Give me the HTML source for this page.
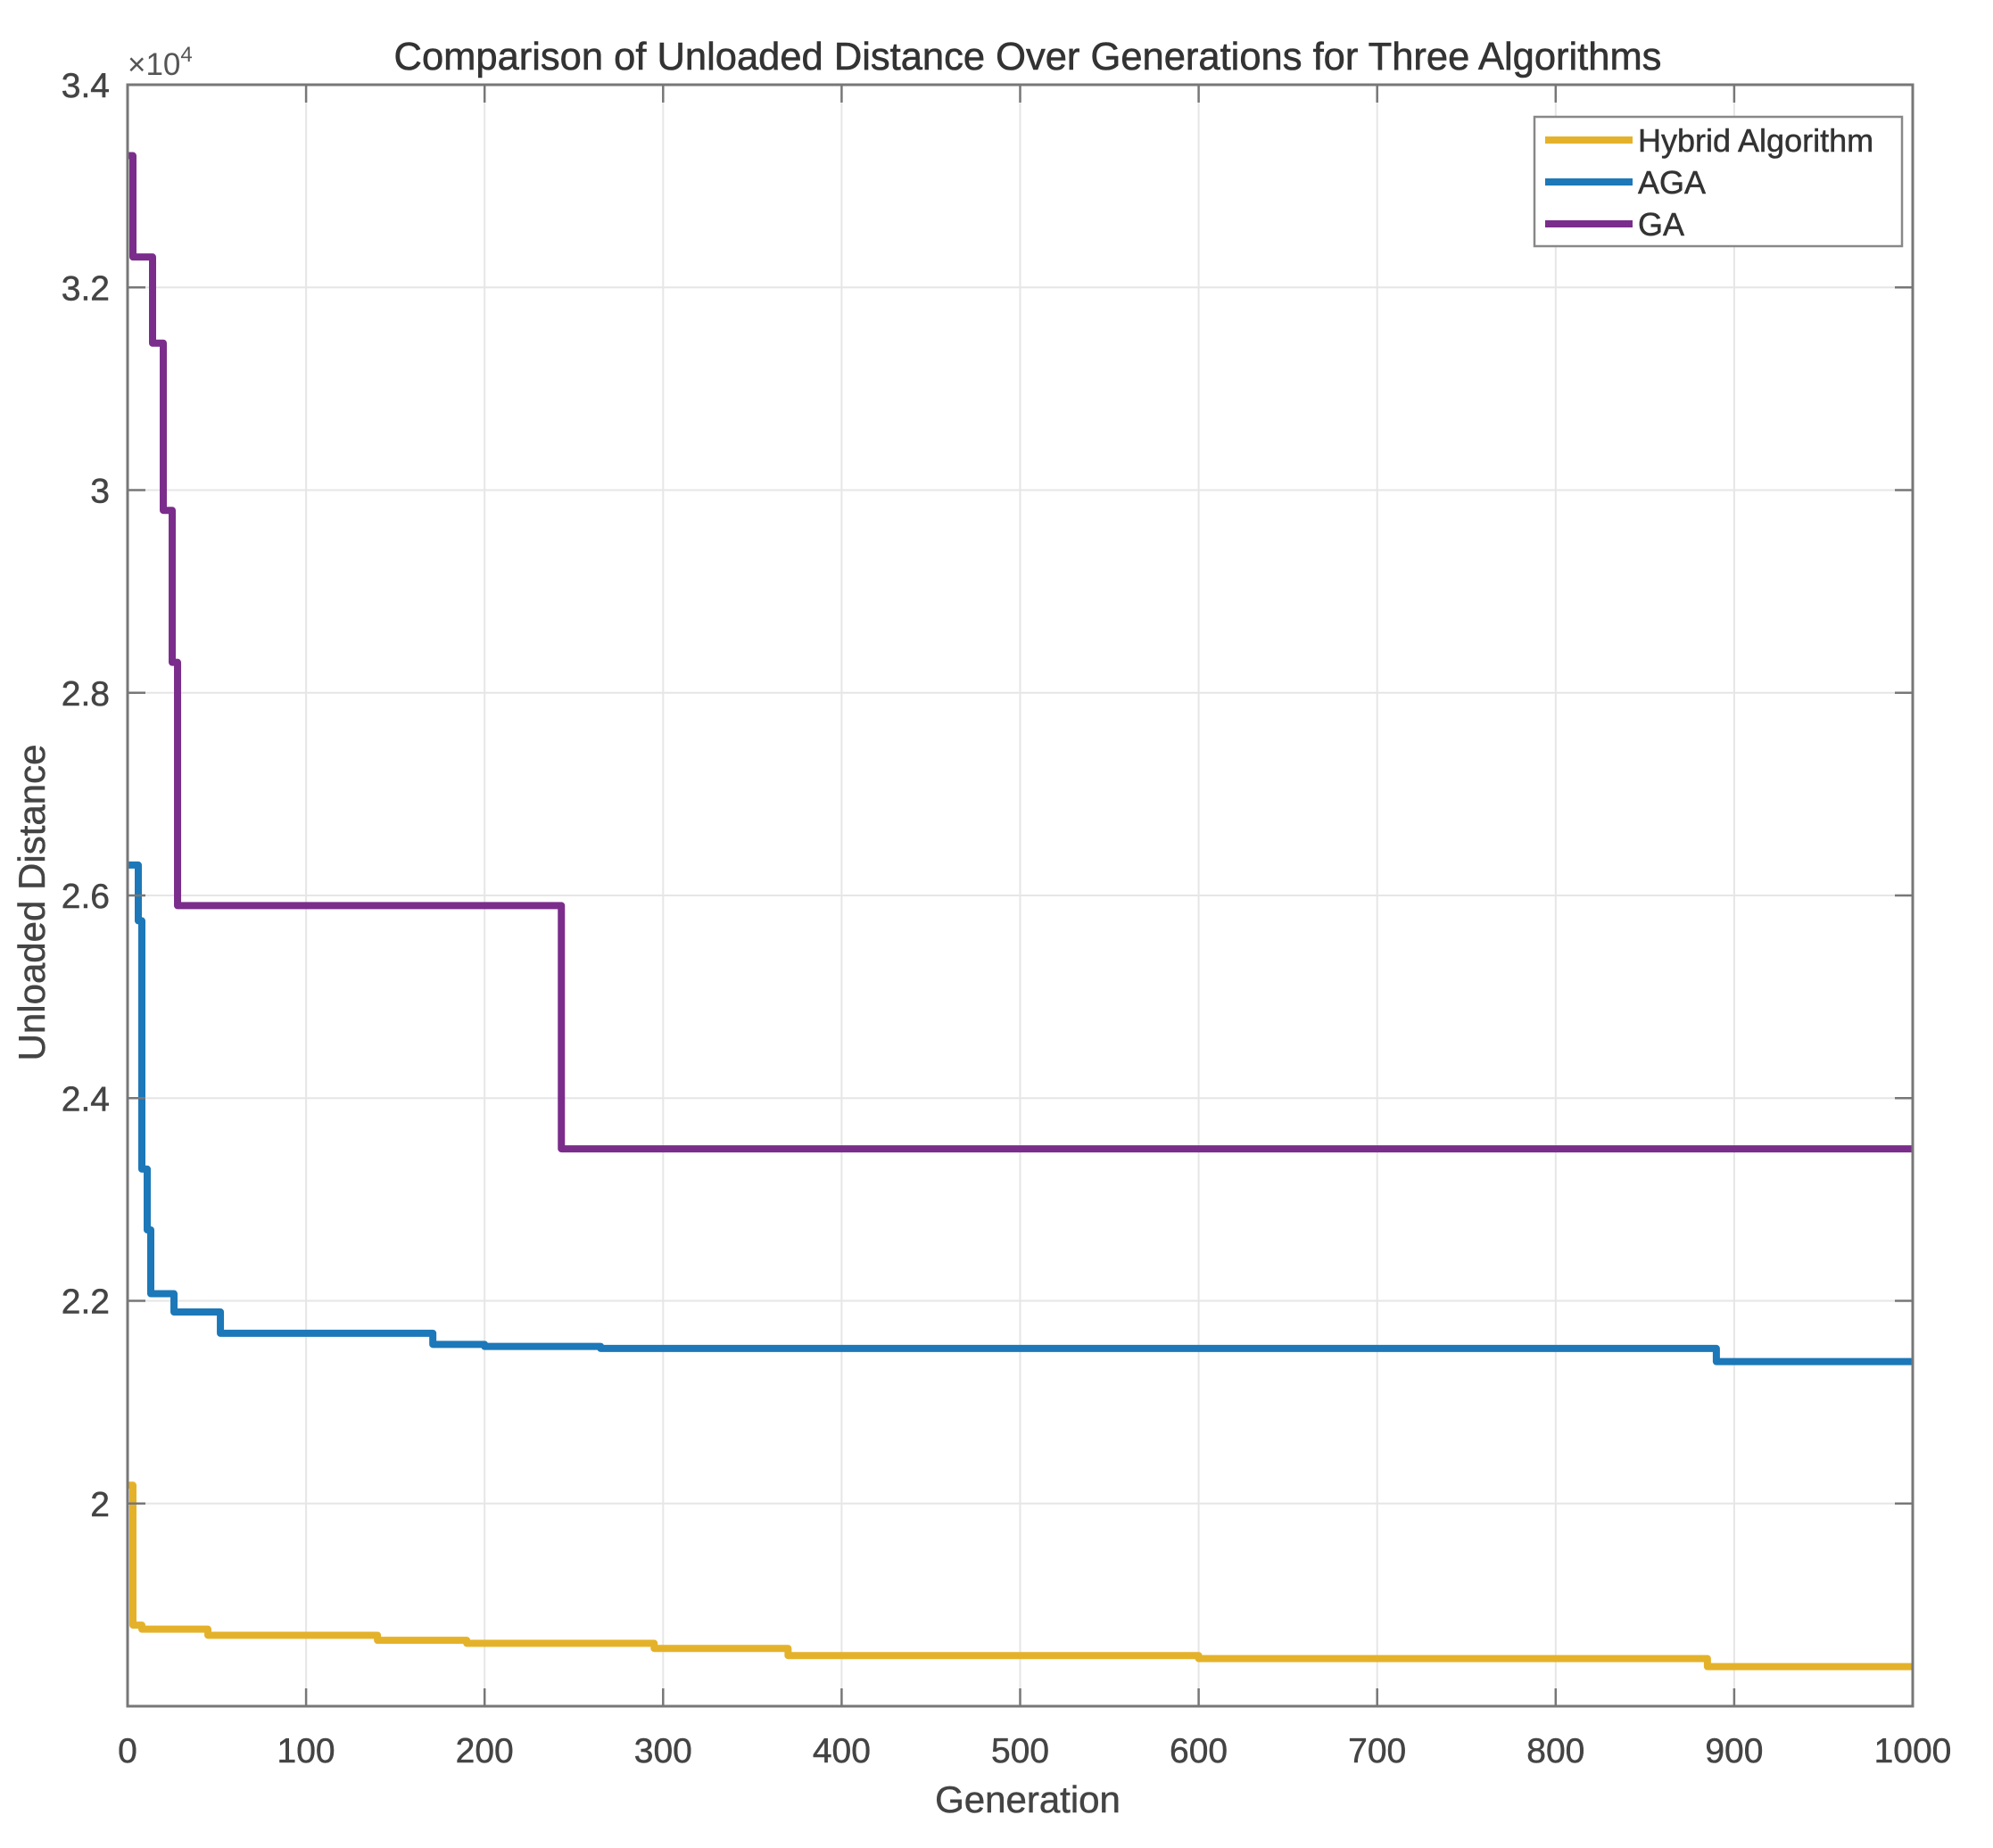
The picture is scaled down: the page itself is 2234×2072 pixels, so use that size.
<!DOCTYPE html>
<html><head><meta charset="utf-8"><style>
html,body{margin:0;padding:0;background:#fff;}
svg{display:block;font-family:"Liberation Sans",Arial,sans-serif;}
</style></head><body>
<svg id="chart" width="2234" height="2072" viewBox="0 0 2234 2072" xmlns="http://www.w3.org/2000/svg">
<rect x="0" y="0" width="2234" height="2072" fill="#fff"/>
<g id="grid"></g>
<g id="series"></g>
<g id="axes"></g>
<text x="1152" y="78" font-size="43.5" fill="#333" text-anchor="middle" stroke="#333" stroke-width="0.6">Comparison of Unloaded Distance Over Generations for Three Algorithms</text>
<text x="1152" y="2032" font-size="42" fill="#444" text-anchor="middle" stroke="#444" stroke-width="0.5">Generation</text>
<text transform="translate(50,1012) rotate(-90)" font-size="42" fill="#444" text-anchor="middle" stroke="#444" stroke-width="0.5">Unloaded Distance</text>
<text x="143" y="84" font-size="35" fill="#555">×10<tspan font-size="24" dy="-15">4</tspan></text>
<g id="legend"></g>
</svg>
<script>
const xTicks = [0,100,200,300,400,500,600,700,800,900,1000];
const yTicks = [20000,22000,24000,26000,28000,30000,32000,34000];
const yTickLabels = ["2","2.2","2.4","2.6","2.8","3","3.2","3.4"];
const seriesNames = ["Hybrid Algorithm","AGA","GA"];
const hybridGen = [0,3,8,45,140,190,295,370,600,885,1000];
const hybridVal = [20180,18800,18760,18700,18650,18620,18570,18500,18470,18390,18390];
const agaGen = [0,6,8,11,13,26,52,171,200,265,890,1000];
const agaVal = [26300,25750,23300,22700,22070,21890,21680,21570,21550,21530,21400,21400];
const gaGen = [0,3,14,20,25,28,243,1000];
const gaVal = [33300,32300,31450,29800,28300,25900,23500,23500];

const L=143,R=2144,T=95,B=1913,XMIN=0,XMAX=1000,YMIN=18000,YMAX=34000;
const sx=v=>L+(v-XMIN)/(XMAX-XMIN)*(R-L);
const sy=v=>B-(v-YMIN)/(YMAX-YMIN)*(B-T);
const NS="http://www.w3.org/2000/svg";
function mk(tag,attrs,parent){const e=document.createElementNS(NS,tag);for(const k in attrs)e.setAttribute(k,attrs[k]);parent.appendChild(e);return e;}
const grid=document.getElementById('grid'),axes=document.getElementById('axes'),series=document.getElementById('series'),legend=document.getElementById('legend');

xTicks.forEach((t,i)=>{
  const x=sx(t);
  const g=mk('line',{x1:x,x2:x,y1:T,y2:B,stroke:'#e6e6e6','stroke-width':2},grid);
  
  
  const t1=mk('line',{x1:x,x2:x,y1:B,y2:B-20,stroke:'#777','stroke-width':2.5},axes);
  
  
  const t2=mk('line',{x1:x,x2:x,y1:T,y2:T+20,stroke:'#777','stroke-width':2.5},axes);
  
  
  const lb=mk('text',{x:x,y:1976,'font-size':39,fill:'#444','text-anchor':'middle',stroke:'#444','stroke-width':0.5},axes);
  lb.textContent=String(t);
  
  
});
yTicks.forEach((t,i)=>{
  const y=sy(t);
  const g=mk('line',{x1:L,x2:R,y1:y,y2:y,stroke:'#e6e6e6','stroke-width':2},grid);
  
  
  const t1=mk('line',{x1:L,x2:L+20,y1:y,y2:y,stroke:'#777','stroke-width':2.5},axes);
  
  
  const t2=mk('line',{x1:R,x2:R-20,y1:y,y2:y,stroke:'#777','stroke-width':2.5},axes);
  
  
  const lb=mk('text',{x:L-20,y:y+14,'font-size':39,fill:'#444','text-anchor':'end',stroke:'#444','stroke-width':0.5},axes);
  lb.textContent=yTickLabels[i];
  
  
});
const box=mk('rect',{x:L,y:T,width:R-L,height:B-T,fill:'none',stroke:'#777','stroke-width':3},axes);



function stepPath(gens,vals){
  let d='M'+sx(gens[0])+','+sy(vals[0]);
  for(let i=1;i<gens.length;i++){d+=' L'+sx(gens[i])+','+sy(vals[i-1])+' L'+sx(gens[i])+','+sy(vals[i]);}
  return d;
}
const colors=['#E4B22A','#1C78B8','#7B2D8B'];
const data=[[hybridGen,hybridVal],[agaGen,agaVal],[gaGen,gaVal]];
const lineNames=['hybrid-line','aga-line','ga-line'];
data.forEach((s,i)=>{
  const p=mk('path',{d:stepPath(s[0],s[1]),fill:'none',stroke:colors[i],'stroke-width':8,'stroke-linejoin':'round'},series);
  
  
});

const lb=mk('rect',{x:1720,y:131,width:412,height:145,fill:'#fff',stroke:'#888','stroke-width':2.5},legend);


seriesNames.forEach((n,i)=>{
  const y=157+i*47;
  const ln=mk('line',{x1:1732,x2:1830,y1:y,y2:y,stroke:colors[i],'stroke-width':8},legend);
  
  
  const tx=mk('text',{x:1836,y:y+13,'font-size':36,fill:'#333',stroke:'#333','stroke-width':0.5},legend);
  tx.textContent=n;
  
  
});
</script>
</body></html>
